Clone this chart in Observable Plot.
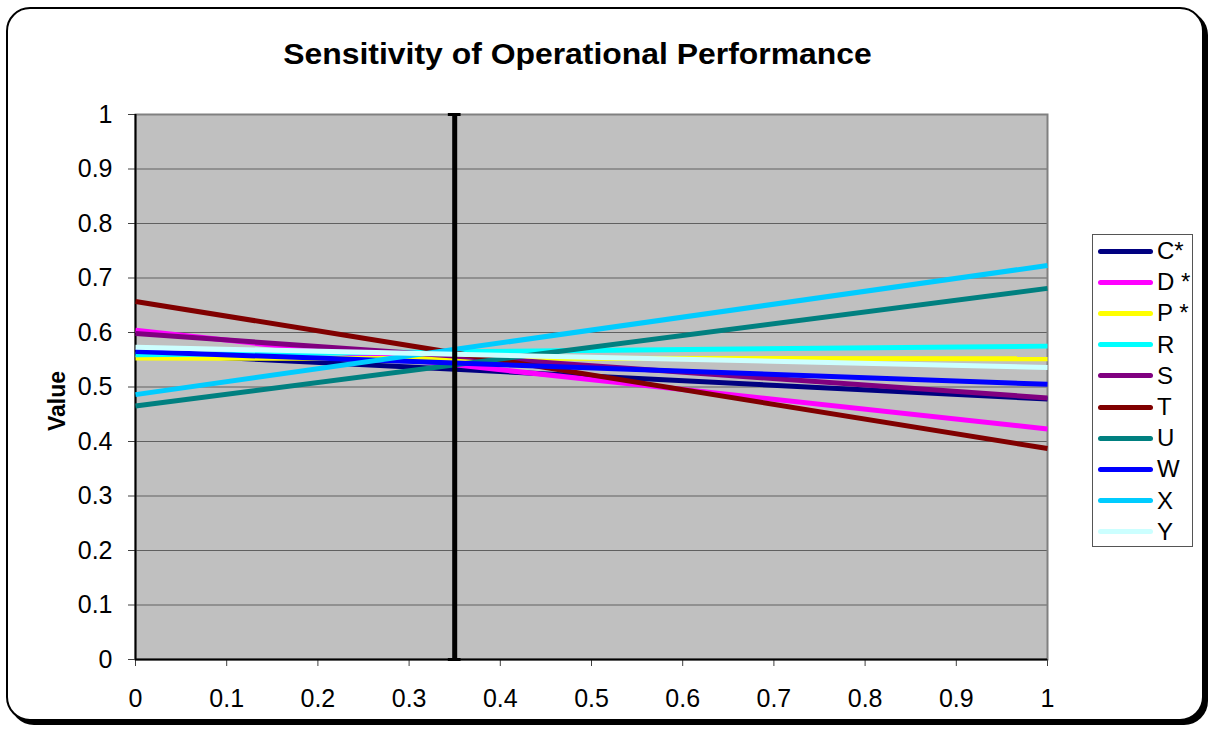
<!DOCTYPE html>
<html>
<head>
<meta charset="utf-8">
<script src="https://cdn.jsdelivr.net/npm/d3@7"></script>
<script src="https://cdn.jsdelivr.net/npm/@observablehq/plot@0.6"></script>
<style>
  html, body { margin: 0; padding: 0; background: #fff; }
  body { font-family: "Liberation Sans", Arial, sans-serif; }
  #wrap { position: relative; width: 1213px; height: 730px; overflow: hidden; background: #fff; }
  #border { position: absolute; left: 6px; top: 7px; width: 1198px; height: 714px; box-sizing: border-box;
    border: 2px solid #000; border-radius: 24px; box-shadow: 4px 4px 0 #000; background: #fff; }
  #chart { position: absolute; left: 0; top: 0; }
  #title { position: absolute; left: 0; width: 1155px; top: 37px; text-align: center; font-weight: bold;
    font-size: 29px; line-height: 34px; color: #000; transform: scaleX(1.1); transform-origin: 577px 0; }
  #ylabel { position: absolute; left: 57px; top: 401px; transform: translate(-50%, -50%) rotate(-90deg);
    font-weight: bold; font-size: 23px; color: #000; white-space: nowrap; }
  #legend { position: absolute; left: 1092px; top: 234px; width: 101px; height: 313px; box-sizing: border-box;
    border: 1.5px solid #555; background: #fff; }
  .item { position: absolute; left: 0; height: 28px; width: 100px; }
  .item .sw { position: absolute; left: 5px; top: 11.5px; width: 55px; height: 5px; border-radius: 3px; }
  .item .lb { position: absolute; left: 64px; top: 0; font-size: 24px; line-height: 28px; color: #000; white-space: pre; }
</style>
</head>
<body>
<div id="wrap">
  <div id="border"></div>
  <div id="chart"></div>
  <div id="title">Sensitivity of Operational Performance</div>
  <div id="ylabel">Value</div>
  <div id="legend"></div>
</div>
<script>
// ---- data ----
const series = ["C*", "D *", "P *", "R", "S", "T", "U", "W", "X", "Y"];
const colors = ["#000080", "#FF00FF", "#FFFF00", "#00FFFF", "#800080", "#800000", "#008080", "#0000FF", "#00CCFF", "#CCFFFF"];
const xValues = [0, 1];
const startValues = [0.562, 0.604, 0.553, 0.559, 0.598, 0.657, 0.465, 0.565, 0.486, 0.573];
const endValues   = [0.478, 0.423, 0.552, 0.575, 0.480, 0.387, 0.681, 0.505, 0.723, 0.536];
const xTicks = [0, 0.1, 0.2, 0.3, 0.4, 0.5, 0.6, 0.7, 0.8, 0.9, 1];
const yTicks = [0, 0.1, 0.2, 0.3, 0.4, 0.5, 0.6, 0.7, 0.8, 0.9, 1];
const markerX = 0.35;
const markerY = [0, 1];

// ---- table ----
const rows = [];
series.forEach((s, i) => {
  rows.push({ series: s, x: xValues[0], y: startValues[i] });
  rows.push({ series: s, x: xValues[1], y: endValues[i] });
});
const capHalf = 0.007;

const chart = Plot.plot({
  width: 1213,
  height: 730,
  marginLeft: 135,
  marginRight: 166,
  marginTop: 114,
  marginBottom: 71,
  style: { fontFamily: '"Liberation Sans", Arial, sans-serif', fontSize: "25px", background: "transparent", color: "#000" },
  x: { domain: [0, 1], label: null },
  y: { domain: [0, 1], label: null },
  color: { domain: series, range: colors },
  marks: [
    Plot.frame({ fill: "#C0C0C0", stroke: null }),
    Plot.gridY(yTicks, { stroke: "#606060", strokeOpacity: 1, strokeWidth: 1 }),
    Plot.frame({ stroke: "#808080", strokeWidth: 2, fill: null }),
    Plot.axisX(xTicks, { tickFormat: d => String(d), tickSize: 7, tickPadding: 23, stroke: "#404040", fill: "#000", fontSize: 25 }),
    Plot.axisY(yTicks, { tickFormat: d => String(d), tickSize: 7, tickPadding: 16, stroke: "#404040", fill: "#000", fontSize: 25 }),
    Plot.ruleX([0], { stroke: "#000", strokeWidth: 2 }),
    Plot.ruleY([0], { stroke: "#000", strokeWidth: 2 }),
    Plot.line(rows, { x: "x", y: "y", z: "series", stroke: "series", strokeWidth: 5, strokeLinecap: "butt" }),
    Plot.ruleX([markerX], { y1: markerY[0], y2: markerY[1], stroke: "#000", strokeWidth: 5 }),
    Plot.ruleY(markerY, { x1: markerX - capHalf, x2: markerX + capHalf, stroke: "#000", strokeWidth: 3 })
  ]
});
document.getElementById("chart").appendChild(chart);

// ---- legend ----
const legend = document.getElementById("legend");
series.forEach((s, i) => {
  const it = document.createElement("div");
  it.className = "item";
  it.style.top = (2 + i * 31.2) + "px";
  const sw = document.createElement("div");
  sw.className = "sw";
  sw.style.background = colors[i];
  const lb = document.createElement("div");
  lb.className = "lb";
  lb.textContent = s;
  it.appendChild(sw);
  it.appendChild(lb);
  legend.appendChild(it);
});
</script>
</body>
</html>
